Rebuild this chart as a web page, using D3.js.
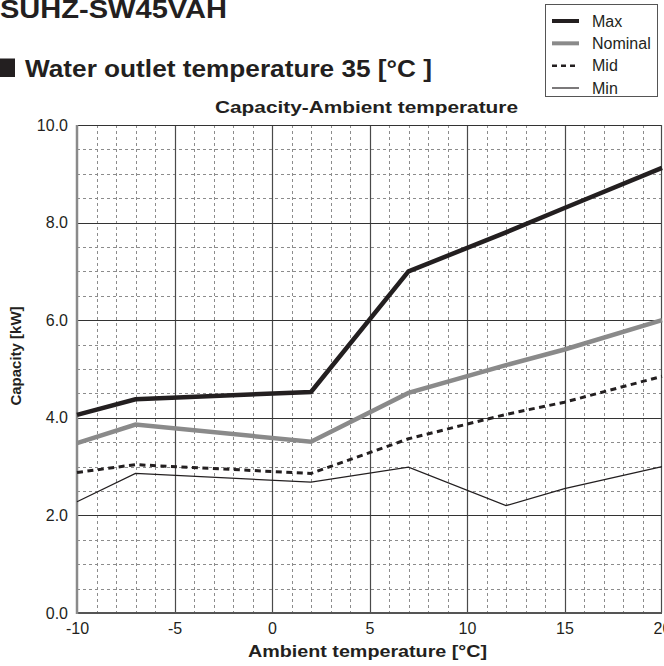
<!DOCTYPE html>
<html>
<head>
<meta charset="utf-8">
<script src="https://cdn.jsdelivr.net/npm/d3@7/dist/d3.min.js"></script>
<style>
  html, body { margin: 0; padding: 0; background: #fff; }
  svg { display: block; font-family: "Liberation Sans", Arial, sans-serif; }
</style>
</head>
<body>
<svg id="chart" width="664" height="666"></svg>
<script>
// ---- data ----
const temps = [-10, -7, 2, 7, 12, 15, 20];
const maxValues = [4.06, 4.38, 4.53, 7.0, 7.8, 8.3, 9.12];
const nominalValues = [3.48, 3.86, 3.51, 4.51, 5.08, 5.4, 6.0];
const midValues = [2.88, 3.04, 2.86, 3.57, 4.07, 4.32, 4.85];
const minValues = [2.28, 2.86, 2.68, 2.99, 2.2, 2.55, 3.0];
const seriesNames = ["Max", "Nominal", "Mid", "Min"];
const xTickValues = [-10, -5, 0, 5, 10, 15, 20];
const yTickValues = [0, 2, 4, 6, 8, 10];
const modelTitle = "SUHZ-SW45VAH";
const sectionTitle = "Water outlet temperature 35 [°C ]";
const chartTitle = "Capacity-Ambient temperature";
const xLabel = "Ambient temperature [°C]";
const yLabel = "Capacity [kW]";

// ---- styles ----
const styles = {
  Max: { stroke: "#231f20", width: 4.5, dash: null },
  Nominal: { stroke: "#8a8a8a", width: 4.5, dash: null },
  Mid: { stroke: "#231f20", width: 3, dash: "6,4.5" },
  Min: { stroke: "#231f20", width: 1.3, dash: null }
};
const seriesValues = { Max: maxValues, Nominal: nominalValues, Mid: midValues, Min: minValues };
const textColor = "#231f20";

const svg = d3.select("#chart");
const x = d3.scaleLinear().domain([-10, 20]).range([77, 662]);
const y = d3.scaleLinear().domain([0, 10]).range([613, 125]);

// minor grid
const g = svg.append("g");
const minorX = d3.range(-10, 20.001, 1).filter(v => v % 5 !== 0);
const minorY = d3.range(0, 10.001, 0.5).filter(v => Math.abs(v % 2) > 1e-9);
g.selectAll("line.mx").data(minorX).join("line")
  .attr("x1", d => Math.round(x(d)) + 0.5).attr("x2", d => Math.round(x(d)) + 0.5)
  .attr("y1", y(10)).attr("y2", y(0))
  .attr("stroke", "#8c8c8c").attr("stroke-width", 1).attr("stroke-dasharray", "3,3");
g.selectAll("line.my").data(minorY).join("line")
  .attr("y1", d => Math.round(y(d)) + 0.5).attr("y2", d => Math.round(y(d)) + 0.5)
  .attr("x1", x(-10)).attr("x2", x(20))
  .attr("stroke", "#8c8c8c").attr("stroke-width", 1).attr("stroke-dasharray", "3,3");
// major grid
g.selectAll("line.Mx").data(xTickValues.filter(v => v > -10 && v < 20)).join("line")
  .attr("x1", d => Math.round(x(d)) + 0.5).attr("x2", d => Math.round(x(d)) + 0.5)
  .attr("y1", y(10)).attr("y2", y(0))
  .attr("stroke", "#4a4a4a").attr("stroke-width", 1.2);
g.selectAll("line.My").data(yTickValues.filter(v => v > 0)).join("line")
  .attr("y1", d => Math.round(y(d)) + 0.5).attr("y2", d => Math.round(y(d)) + 0.5)
  .attr("x1", x(-10)).attr("x2", x(20))
  .attr("stroke", "#333").attr("stroke-width", 1.2);
// right border
g.append("line").attr("x1", x(20) - 0.5).attr("x2", x(20) - 0.5).attr("y1", y(10)).attr("y2", y(0))
  .attr("stroke", "#4a4a4a").attr("stroke-width", 1.2);
// bottom axis line
g.append("line").attr("x1", x(-10)).attr("x2", x(20)).attr("y1", y(0)).attr("y2", y(0))
  .attr("stroke", "#555").attr("stroke-width", 2);
// left axis line
g.append("line").attr("x1", x(-10)).attr("x2", x(-10)).attr("y1", y(10)).attr("y2", y(0) + 1)
  .attr("stroke", "#8a8a8a").attr("stroke-width", 2.5);

// axes tick labels
const yAxis = svg.append("g").attr("transform", `translate(${x(-10)},0)`)
  .call(d3.axisLeft(y).tickValues(yTickValues).tickSize(0).tickPadding(9).tickFormat(d3.format(".1f")));
yAxis.select(".domain").remove();
yAxis.selectAll("text").attr("font-size", 16).attr("fill", textColor)
  .attr("font-family", "Liberation Sans, Arial, sans-serif");
const xAxis = svg.append("g").attr("transform", `translate(0,${y(0)})`)
  .call(d3.axisBottom(x).tickValues(xTickValues).tickSize(0).tickPadding(10).tickFormat(d => String(d)));
xAxis.select(".domain").remove();
xAxis.selectAll("text").attr("font-size", 16).attr("fill", textColor)
  .attr("font-family", "Liberation Sans, Arial, sans-serif");

// series lines
const line = d3.line().x((d, i) => x(temps[i])).y(d => y(d));
seriesNames.slice().reverse().forEach(name => {
  const s = styles[name];
  svg.append("path").datum(seriesValues[name])
    .attr("d", line).attr("fill", "none")
    .attr("stroke", s.stroke).attr("stroke-width", s.width)
    .attr("stroke-dasharray", s.dash).attr("stroke-linejoin", "miter");
});

// titles
svg.append("text").attr("x", 0).attr("y", 17.5).text(modelTitle)
  .attr("font-size", 26).attr("font-weight", "bold").attr("fill", textColor)
  .attr("textLength", 227).attr("lengthAdjust", "spacingAndGlyphs");
svg.append("rect").attr("x", 0).attr("y", 58.5).attr("width", 15).attr("height", 18.5).attr("fill", textColor);
svg.append("text").attr("x", 25).attr("y", 77.3).text(sectionTitle)
  .attr("font-size", 23).attr("font-weight", "bold").attr("fill", textColor)
  .attr("textLength", 407).attr("lengthAdjust", "spacingAndGlyphs");
svg.append("text").attr("x", 215).attr("y", 113.3).text(chartTitle)
  .attr("font-size", 17).attr("font-weight", "bold").attr("fill", textColor)
  .attr("textLength", 303).attr("lengthAdjust", "spacingAndGlyphs");
svg.append("text").attr("x", 248).attr("y", 656.5).text(xLabel)
  .attr("font-size", 16).attr("font-weight", "bold").attr("fill", textColor)
  .attr("textLength", 239).attr("lengthAdjust", "spacingAndGlyphs");
svg.append("text").attr("transform", "translate(21,356) rotate(-90)")
  .attr("text-anchor", "middle").text(yLabel)
  .attr("font-size", 15).attr("font-weight", "bold").attr("fill", textColor);

// legend
const lg = svg.append("g");
lg.append("rect").attr("x", 545.5).attr("y", 4.5).attr("width", 112).attr("height", 92)
  .attr("fill", "#fff").attr("stroke", "#555").attr("stroke-width", 1);
const legendY = d3.scalePoint().domain(seriesNames).range([21, 88]);
const legendStyle = {
  Max: { w: 4, dash: null }, Nominal: { w: 4, dash: null }, Mid: { w: 2.5, dash: "5,4" }, Min: { w: 1.2, dash: null }
};
seriesNames.forEach(name => {
  const yy = legendY(name);
  lg.append("line").attr("x1", 552).attr("x2", 579).attr("y1", yy).attr("y2", yy)
    .attr("stroke", styles[name].stroke).attr("stroke-width", legendStyle[name].w)
    .attr("stroke-dasharray", legendStyle[name].dash);
  lg.append("text").attr("x", 592).attr("y", yy).attr("dy", "0.35em").text(name)
    .attr("font-size", 16).attr("fill", textColor);
});
</script>
</body>
</html>
